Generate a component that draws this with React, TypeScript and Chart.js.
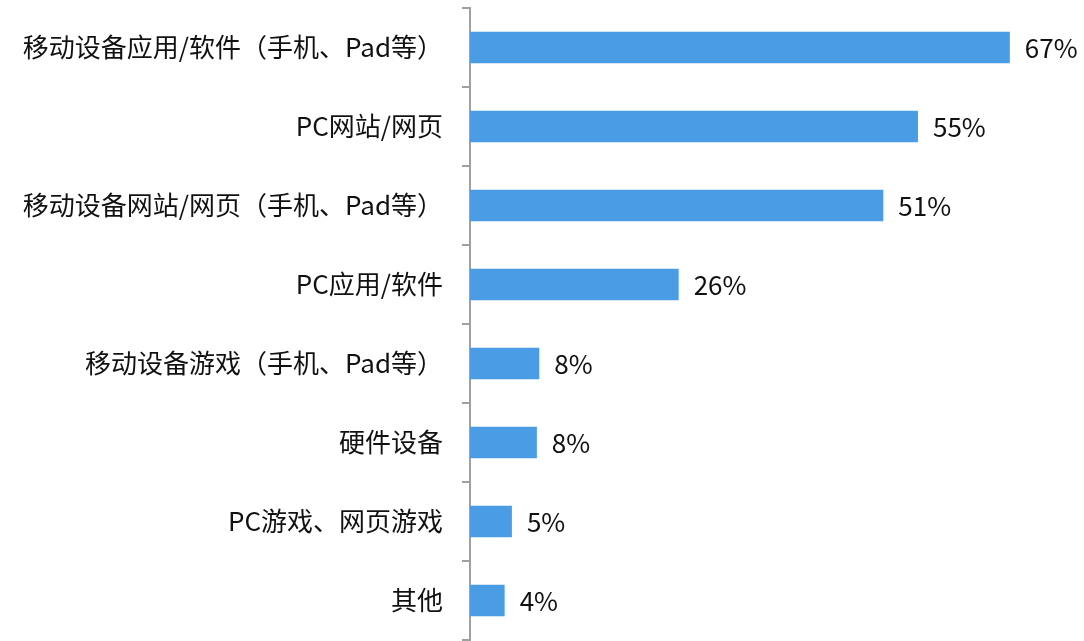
import React, { useEffect, useRef } from "react";
import { Chart, registerables } from "chart.js";

Chart.register(...registerables);

const categories = [
  "移动设备应用/软件（手机、Pad等）",
  "PC网站/网页",
  "移动设备网站/网页（手机、Pad等）",
  "PC应用/软件",
  "移动设备游戏（手机、Pad等）",
  "硬件设备",
  "PC游戏、网页游戏",
  "其他",
];
const values = [67, 55.6, 51.3, 25.9, 8.6, 8.3, 5.2, 4.3];
const valueLabels = ["67%", "55%", "51%", "26%", "8%", "8%", "5%", "4%"];

const FONT = '"Noto Sans CJK SC", "Noto Sans", sans-serif';

export default function App() {
  const ref = useRef<HTMLCanvasElement>(null);
  useEffect(() => {
    if (!ref.current) return;
    const labelPlugin = {
      id: "valueLabels",
      afterDatasetsDraw(chart: any) {
        const ctx = chart.ctx;
        const meta = chart.getDatasetMeta(0);
        ctx.save();
        ctx.font = `26px ${FONT}`;
        ctx.fillStyle = "#111";
        ctx.textAlign = "left";
        ctx.textBaseline = "middle";
        meta.data.forEach((bar: any, i: number) => {
          ctx.fillText(valueLabels[i], bar.x + 15, bar.y + 1);
        });
        ctx.restore();
      },
    };
    const chart = new Chart(ref.current, {
      type: "bar",
      data: {
        labels: categories,
        datasets: [
          {
            data: values,
            backgroundColor: "#4A9DE4",
            borderWidth: 0,
            barPercentage: 0.8,
            categoryPercentage: 0.5,
          },
        ],
      },
      options: {
        indexAxis: "y",
        responsive: false,
        animation: false,
        layout: { padding: { top: 8, right: 50, bottom: 1, left: 0 } },
        plugins: { legend: { display: false }, tooltip: { enabled: false } },
        scales: {
          x: { display: false, min: 0, max: 70 },
          y: {
            afterFit(scale: any) {
              scale.width = 470;
              scale.paddingTop = 0;
              scale.paddingBottom = 0;
            },
            grid: {
              offset: true,
              drawOnChartArea: false,
              drawTicks: true,
              tickLength: 8,
              color: "#a0a0a0",
              lineWidth: 2,
            },
            border: { display: true, color: "#a0a0a0", width: 2 },
            ticks: {
              padding: 19,
              color: "#111",
              font: { family: FONT, size: 26 },
            },
          },
        },
      },
      plugins: [labelPlugin],
    });
    return () => chart.destroy();
  }, []);
  return (
    <div style={{ position: "absolute", left: 0, top: 0, width: 1084, height: 641, background: "#fff" }}>
      <canvas ref={ref} width={1084} height={641} style={{ display: "block" }} />
    </div>
  );
}
